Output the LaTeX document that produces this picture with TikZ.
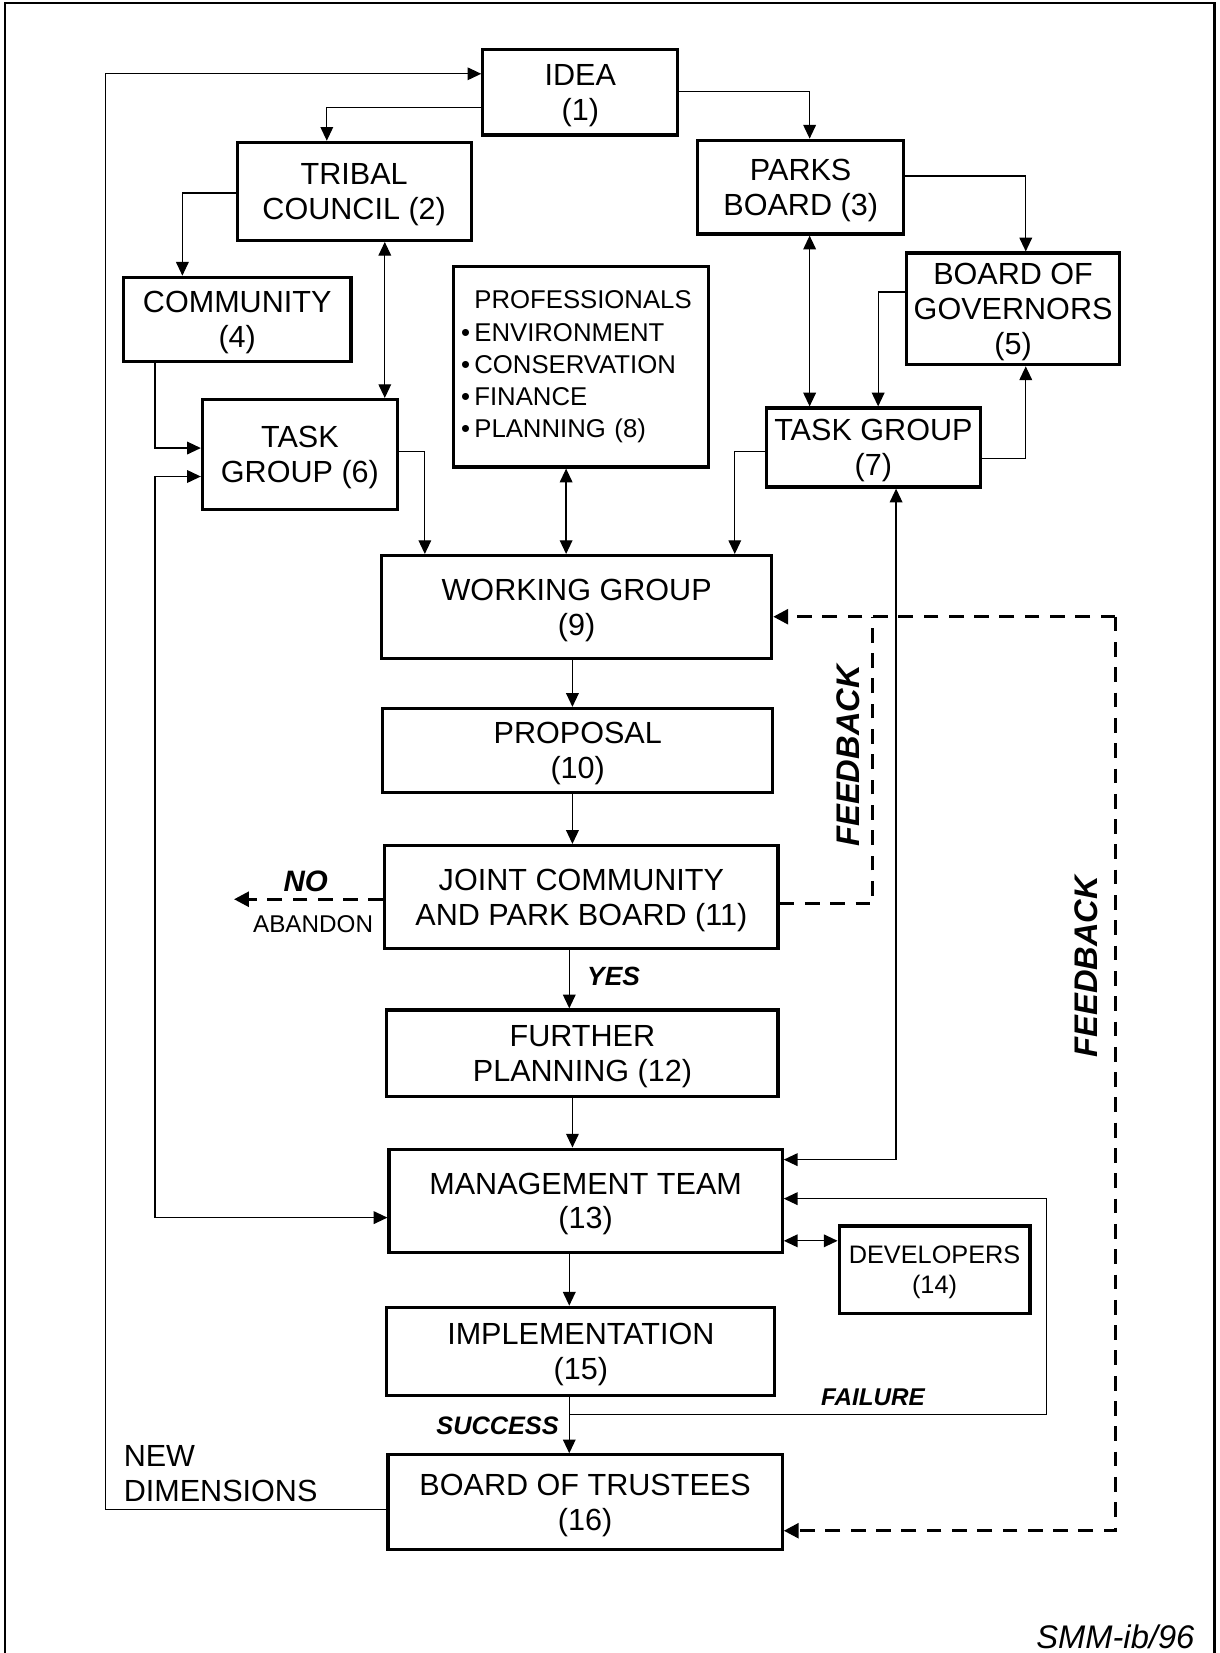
\documentclass[tikz,border=0pt]{standalone}
\usepackage{fontspec}
\setmainfont{Liberation Sans}
\usetikzlibrary{arrows.meta,calc}
\newcommand{\bul}{\leavevmode\llap{•\,}}
\tikzset{
  box/.style={draw, line width=1.5pt, inner sep=0pt, align=center, font=\fontsize{14.5}{16.5}\selectfont,
              text depth=-1pt},
  profbox/.style={draw, line width=1.5pt, inner ysep=0pt, inner xsep=10pt, align=left, text width=101pt,
              font=\fontsize{12.2}{15.25}\selectfont},
  con/.style={line width=0.6pt},
  arr/.style={con, -{Triangle[length=6.5pt,width=6pt]}},
  darr/.style={con, {Triangle[length=6.5pt,width=6pt]}-{Triangle[length=6.5pt,width=6pt]}},
  dsh/.style={line width=1.4pt, dash pattern=on 7pt off 5pt},
  dsharr/.style={dsh, -{Triangle[length=7pt,width=7pt]}},
  lbl/.style={font=\fontsize{12.5}{14}\selectfont\bfseries\itshape, inner sep=0pt},
  plain/.style={font=\fontsize{14.5}{16.5}\selectfont, inner sep=0pt, align=left},
}
\begin{document}
\begin{tikzpicture}[x=0.5pt,y=-0.5pt]
\useasboundingbox (0,0) rectangle (1157,1568);
% outer frame
\draw[line width=1pt] (5,1568) -- (5,3) -- (1152,3) -- (1152,1568);

% boxes
\node[box, minimum width=92.5pt, minimum height=40.5pt] (idea) at (550.5,87.5) {IDEA\\(1)};
\node[box, minimum width=111pt, minimum height=46.5pt] (tribal) at (336,181.5) {TRIBAL\\COUNCIL (2)};
\node[box, minimum width=97.5pt, minimum height=44.5pt] (parks) at (759.5,177.5) {PARKS\\BOARD (3)};
\node[box, minimum width=108pt, minimum height=40pt] (community) at (225,303) {COMMUNITY\\(4)};
\node[box, minimum width=101pt, minimum height=53pt] (gov) at (961,293) {BOARD OF\\GOVERNORS\\(5)};
\node[box, minimum width=92.5pt, minimum height=52pt] (tg6) at (284.5,431) {TASK\\GROUP (6)};
\node[box, minimum width=101.5pt, minimum height=37.5pt] (tg7) at (828.5,424.5) {TASK GROUP\\(7)};
\node[profbox, minimum width=121pt, minimum height=95pt] (prof) at (551,348)
  {PROFESSIONALS\\\bul ENVIRONMENT\\\bul CONSERVATION\\\bul FINANCE\\\bul PLANNING (8)};
\node[box, minimum width=185pt, minimum height=49pt] (wg) at (547,576) {WORKING GROUP\\(9)};
\node[box, minimum width=185pt, minimum height=40pt] (proposal) at (548,712) {PROPOSAL\\(10)};
\node[box, minimum width=186.5pt, minimum height=49pt] (joint) at (551.5,851) {JOINT COMMUNITY\\AND PARK BOARD (11)};
\node[box, minimum width=185.5pt, minimum height=41pt] (further) at (552.5,999) {FURTHER\\PLANNING (12)};
\node[box, minimum width=186.5pt, minimum height=49pt] (mgmt) at (555.5,1139) {MANAGEMENT TEAM\\(13)};
\node[box, minimum width=90.5pt, minimum height=41.5pt, font=\fontsize{12}{14.5}\selectfont] (dev) at (886.5,1204.5) {DEVELOPERS\\(14)};
\node[box, minimum width=184pt, minimum height=42pt] (impl) at (551,1282) {IMPLEMENTATION\\(15)};
\node[box, minimum width=187pt, minimum height=45pt] (bot) at (555,1425) {BOARD OF TRUSTEES\\(16)};

% free-end coordinates
\coordinate (abandon) at (222,853);
\coordinate (fail) at (540,1342);

% connectors (top part)
\draw[arr] (idea.west |- 0,102) -| (tribal.north -| 310,0);
\draw[arr] (idea.east |- 0,87) -| (parks.north -| 768,0);
\draw[arr] (bot.west |- 0,1432) -| (100,70) -- (idea.west |- 0,70);
\draw[arr] (tribal.west |- 0,183) -| (community.north -| 173,0);
\draw[darr] (tribal.south -| 365,0) -- (tg6.north -| 365,0);
\draw[arr] (community.south -| 147,0) |- (tg6.west |- 0,425);
\draw[darr] (tg6.west |- 0,452) -| (147,1155) -- (mgmt.west |- 0,1155);
\draw[arr] (tg6.east |- 0,428) -| (wg.north -| 403,0);
\draw[darr] (prof.south -| 537,0) -- (wg.north -| 537,0);
\draw[darr] (parks.south -| 768,0) -- (tg7.north -| 768,0);
\draw[arr] (parks.east |- 0,167) -| (gov.north -| 973,0);
\draw[arr] (gov.west |- 0,277) -| (tg7.north -| 833,0);
\draw[arr] (tg7.east |- 0,435) -| (gov.south -| 973,0);
\draw[arr] (tg7.west |- 0,428) -| (wg.north -| 697,0);
\draw[darr] (tg7.south -| 850,0) |- (mgmt.east |- 0,1100);

% central chain
\draw[arr] (wg.south -| 543,0) -- (proposal.north -| 543,0);
\draw[arr] (proposal.south -| 543,0) -- (joint.north -| 543,0);
\draw[arr] (joint.south -| 540,0) -- (further.north -| 540,0);
\draw[arr] (further.south -| 543,0) -- (mgmt.north -| 543,0);
\draw[arr] (mgmt.south -| 540,0) -- (impl.north -| 540,0);
\draw[arr] (impl.south -| 540,0) -- (bot.north -| 540,0);

% failure loop and developers
\draw[arr] (fail) -| (993,1137) -- (mgmt.east |- 0,1137);
\draw[darr] (mgmt.east |- 0,1177) -- (dev.west |- 0,1177);

% dashed feedback / abandon
\draw[dsh] (joint.east |- 0,857) -| (828,585);
\draw[dsharr] (1058,585) -- (wg.east |- 0,585);
\draw[dsharr] (1058,585) |- (bot.east |- 0,1452);
\draw[dsharr] (joint.west |- 0,853) -- (abandon);

% labels
\node[lbl, font=\fontsize{14}{16}\selectfont\bfseries\itshape] (nolbl) at (290,836) {NO};
\node[inner sep=0pt, font=\fontsize{11.5}{13}\selectfont] (abandonlbl) at (297,877) {ABANDON};
\node[lbl] (yeslbl) at (582,926) {YES};
\node[lbl, font=\fontsize{12}{14}\selectfont\bfseries\itshape] (successlbl) at (472,1352) {SUCCESS};
\node[lbl, font=\fontsize{11.5}{13}\selectfont\bfseries\itshape] (failurelbl) at (828,1325) {FAILURE};
\node[lbl, font=\fontsize{15.5}{17}\selectfont\bfseries\itshape, rotate=90] (fb1) at (805,717) {FEEDBACK};
\node[lbl, font=\fontsize{15.5}{17}\selectfont\bfseries\itshape, rotate=90] (fb2) at (1030,917) {FEEDBACK};
\node[plain, anchor=west] (newdim) at (117,1398) {NEW\\DIMENSIONS};
\node[inner sep=0pt, font=\fontsize{15.5}{17}\selectfont\itshape] (sign) at (1058,1553) {SMM-ib/96};
\end{tikzpicture}
\end{document}
